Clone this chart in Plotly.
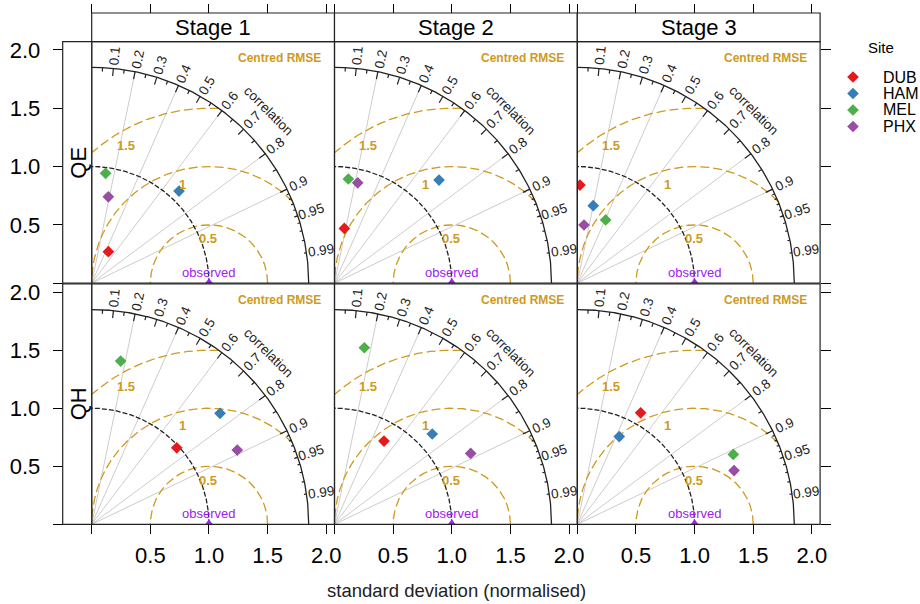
import numpy as np
import plotly.graph_objects as go

# ---------------- data ----------------
sites = ["DUB", "HAM", "MEL", "PHX"]
site_colors = ["#E41A1C", "#377EB8", "#4DAF4A", "#984EA3"]
stages = ["Stage 1", "Stage 2", "Stage 3"]
fluxes = ["QE", "QH"]

# normalised standard deviation and correlation (site order: DUB, HAM, MEL, PHX)
qe_stage1_sd = [0.305, 1.085, 0.949, 0.754]
qe_stage1_r = [0.466, 0.686, 0.125, 0.188]
qe_stage2_sd = [0.477, 1.255, 0.901, 0.883]
qe_stage2_r = [0.176, 0.710, 0.131, 0.224]
qe_stage3_sd = [0.841, 0.678, 0.594, 0.502]
qe_stage3_r = [0.027, 0.200, 0.407, 0.114]
qh_stage1_sd = [0.980, 1.453, 1.428, 1.396]
qh_stage1_r = [0.740, 0.753, 0.173, 0.889]
qh_stage2_sd = [0.832, 1.140, 1.542, 1.312]
qh_stage2_r = [0.507, 0.731, 0.165, 0.885]
qh_stage3_sd = [1.102, 0.836, 1.460, 1.414]
qh_stage3_r = [0.490, 0.428, 0.911, 0.945]

panel_sd = [[qe_stage1_sd, qe_stage2_sd, qe_stage3_sd],
            [qh_stage1_sd, qh_stage2_sd, qh_stage3_sd]]
panel_r = [[qe_stage1_r, qe_stage2_r, qe_stage3_r],
           [qh_stage1_r, qh_stage2_r, qh_stage3_r]]

observed_sd = 1.0
max_sd = 1.85
rms_levels = [0.5, 1.0, 1.5]
rms_texts = ["0.5", "1", "1.5"]
corr_grid = [0.2, 0.4, 0.6, 0.8, 0.9]
corr_labels = [0.1, 0.2, 0.3, 0.4, 0.5, 0.6, 0.7, 0.8, 0.9, 0.95, 0.99]
axis_tickvals = [0, 0.5, 1.0, 1.5, 2.0]
axis_ticktext = ["", "0.5", "1.0", "1.5", "2.0"]

# ---------------- style / layout ----------------
FW, FH = 920, 604
FONT = "Liberation Sans, Arial, sans-serif"
RMS_COL = "#CF9A1E"
OBS_COL = "#A020F0"
GRID_COL = "#CCCCCC"
AX_RANGE = [0, 2.07]
COL_X0 = [91.7, 334.5, 577.3]
COL_W = 242.8
ROW_Y = [(41.7, 283.2), (284.0, 524.3)]
STRIP_TOP = 13.0
LSTRIP_X0 = 62.7
rms_label_angles = [91, 105, 121]


def px(x):
    return x / FW


def py(y):
    return 1 - y / FH


fig = go.Figure()
layout = dict(
    width=FW, height=FH, margin=dict(l=0, r=0, t=0, b=0, autoexpand=False),
    paper_bgcolor="white", plot_bgcolor="rgba(0,0,0,0)", showlegend=False,
    font=dict(family=FONT, color="black"),
)
annotations = []
shapes = []


def arc_xy(radius, a0, a1, n=400):
    t = np.linspace(a0, a1, n)
    return radius * np.cos(t), radius * np.sin(t)


def paper_text(x, y, text, size, **kw):
    d = dict(x=px(x), y=py(y), xref="paper", yref="paper", text=text, showarrow=False,
             xanchor="center", yanchor="middle",
             font=dict(size=size, family=FONT, color=kw.pop("color", "black")))
    d.update(kw)
    return d


for row in range(2):
    for col in range(3):
        k = row * 3 + col + 1
        xn = "x" if k == 1 else f"x{k}"
        yn = "y" if k == 1 else f"y{k}"
        xk = "xaxis" if k == 1 else f"xaxis{k}"
        yk = "yaxis" if k == 1 else f"yaxis{k}"
        x0 = COL_X0[col]
        top, bot = ROW_Y[row]

        xa = dict(domain=[px(x0), px(x0 + COL_W)], range=AX_RANGE, showgrid=False,
                  zeroline=False, showline=False, fixedrange=True,
                  tickvals=axis_tickvals, ticktext=axis_ticktext,
                  tickcolor="black", tickwidth=1)
        ya = dict(domain=[py(bot), py(top)], range=AX_RANGE, showgrid=False,
                  zeroline=False, showline=False, fixedrange=True,
                  tickvals=axis_tickvals, ticktext=axis_ticktext,
                  tickcolor="black", tickwidth=1)
        if row == 0:
            xa.update(side="top", anchor="free", position=py(STRIP_TOP),
                      ticks="outside", ticklen=9, showticklabels=False)
        else:
            xa.update(anchor=yn, ticks="outside", ticklen=9, showticklabels=True,
                      tickfont=dict(size=22, family=FONT, color="black"),
                      ticklabelstandoff=2)
        if col == 0:
            ya.update(anchor="free", position=px(LSTRIP_X0), ticks="outside",
                      ticklen=10, showticklabels=True,
                      tickfont=dict(size=22, family=FONT, color="black"),
                      ticklabelstandoff=8)
        elif col == 2:
            ya.update(side="right", anchor="free", position=px(COL_X0[2] + COL_W),
                      ticks="outside", ticklen=10, showticklabels=False)
        else:
            ya.update(anchor=xn, ticks="", showticklabels=False)
        layout[xk] = xa
        layout[yk] = ya

        # grey correlation lines
        gx, gy = [], []
        for c in corr_grid:
            gx += [0, max_sd * c, None]
            gy += [0, max_sd * np.sqrt(1 - c * c), None]
        fig.add_trace(go.Scatter(x=gx, y=gy, mode="lines", xaxis=xn, yaxis=yn,
                                 line=dict(color=GRID_COL, width=1), hoverinfo="skip"))

        # centred RMSE circles around the observed point
        for lev in rms_levels:
            t = np.linspace(0, np.pi, 1500)
            cx = observed_sd + lev * np.cos(t)
            cy = lev * np.sin(t)
            m = (cx >= 0) & (cx ** 2 + cy ** 2 <= max_sd ** 2)
            fig.add_trace(go.Scatter(x=cx[m], y=cy[m], mode="lines", xaxis=xn, yaxis=yn,
                                     line=dict(color=RMS_COL, width=1.3, dash="9px,4px"),
                                     hoverinfo="skip"))

        # observed standard deviation arc
        ax_, ay_ = arc_xy(observed_sd, 0, np.pi / 2)
        fig.add_trace(go.Scatter(x=ax_, y=ay_, mode="lines", xaxis=xn, yaxis=yn,
                                 line=dict(color="#222222", width=1.3, dash="5px,2px"),
                                 hoverinfo="skip"))

        # outer correlation arc
        ox, oy = arc_xy(max_sd, 0, np.pi / 2)
        fig.add_trace(go.Scatter(x=ox, y=oy, mode="lines", xaxis=xn, yaxis=yn,
                                 line=dict(color="#222222", width=1.3), hoverinfo="skip"))

        # correlation ticks on the arc
        tx, ty = [], []
        tick_sets = [(np.arange(1, 10) / 10, 0.965),
                     (np.arange(0.05, 0.96, 0.1), 0.982),
                     (np.arange(91, 100) / 100, 0.988)]
        for vals, inner in tick_sets:
            for c in vals:
                s = np.sqrt(1 - c * c)
                tx += [max_sd * c, inner * max_sd * c, None]
                ty += [max_sd * s, inner * max_sd * s, None]
        fig.add_trace(go.Scatter(x=tx, y=ty, mode="lines", xaxis=xn, yaxis=yn,
                                 line=dict(color="#222222", width=1.2), hoverinfo="skip"))

        # observed marker
        fig.add_trace(go.Scatter(x=[observed_sd], y=[0], mode="markers", xaxis=xn, yaxis=yn,
                                 marker=dict(symbol="triangle-up", size=10, color=OBS_COL),
                                 cliponaxis=True, hoverinfo="skip"))

        # site points
        sds = panel_sd[row][col]
        rs = panel_r[row][col]
        for i, s in enumerate(sites):
            sd = sds[i]
            r = rs[i]
            fig.add_trace(go.Scatter(x=[sd * r], y=[sd * np.sqrt(1 - r * r)], mode="markers",
                                     xaxis=xn, yaxis=yn, name=s,
                                     marker=dict(symbol="diamond", size=9, color=site_colors[i]),
                                     cliponaxis=True))

        # correlation labels
        for c in corr_labels:
            ang = np.arccos(c)
            w = len(f"{c:g}")
            rad = max_sd * (1.06 + 0.006 * (w - 3))
            annotations.append(dict(x=rad * np.cos(ang), y=rad * np.sin(ang), xref=xn, yref=yn,
                                    text=f"{c:g}", showarrow=False, textangle=-np.degrees(ang),
                                    font=dict(size=13.5, family=FONT, color="#222222"),
                                    xanchor="center", yanchor="middle"))
        ca = np.radians(44.5)
        annotations.append(dict(x=1.14 * max_sd * np.cos(ca), y=1.14 * max_sd * np.sin(ca),
                                xref=xn, yref=yn, text="correlation", showarrow=False,
                                xanchor="center", yanchor="middle",
                                textangle=45, font=dict(size=13.5, family=FONT, color="#222222")))
        annotations.append(dict(x=1.605, y=1.93, xref=xn, yref=yn, text="<b>Centred RMSE</b>",
                                showarrow=False, xanchor="center", yanchor="middle",
                                font=dict(size=12, family=FONT, color=RMS_COL)))
        for lev, txt, la in zip(rms_levels, rms_texts, rms_label_angles):
            d = lev - 0.12
            annotations.append(dict(x=observed_sd + d * np.cos(np.radians(la)),
                                    y=d * np.sin(np.radians(la)), xref=xn, yref=yn,
                                    text=f"<b>{txt}</b>", showarrow=False,
                                    xanchor="center", yanchor="middle",
                                    font=dict(size=13, family=FONT, color=RMS_COL)))
        annotations.append(dict(x=observed_sd, y=0.09, xref=xn, yref=yn, text="observed",
                                showarrow=False, xanchor="center", yanchor="middle",
                                font=dict(size=13, family=FONT, color=OBS_COL)))

        # panel frame
        shapes.append(dict(type="rect", xref="paper", yref="paper",
                           x0=px(x0), x1=px(x0 + COL_W), y0=py(bot), y1=py(top),
                           line=dict(color="#222222", width=1.2), layer="above"))

# top strips
for col, st in enumerate(stages):
    x0 = COL_X0[col]
    shapes.append(dict(type="rect", xref="paper", yref="paper", x0=px(x0), x1=px(x0 + COL_W),
                       y0=py(ROW_Y[0][0]), y1=py(STRIP_TOP), line=dict(color="#222222", width=1.2),
                       fillcolor="white", layer="above"))
    annotations.append(paper_text(x0 + COL_W / 2, (STRIP_TOP + ROW_Y[0][0]) / 2, st, 22))
# left strips
for row, fl in enumerate(fluxes):
    top, bot = ROW_Y[row]
    shapes.append(dict(type="rect", xref="paper", yref="paper", x0=px(LSTRIP_X0), x1=px(COL_X0[0]),
                       y0=py(bot), y1=py(top), line=dict(color="#222222", width=1.2),
                       fillcolor="white", layer="above"))
    annotations.append(paper_text((LSTRIP_X0 + COL_X0[0]) / 2 + 1, (top + bot) / 2, fl, 22,
                                  textangle=-90))

# axis title
annotations.append(paper_text(456, 590, "standard deviation (normalised)", 18.5, color="#222222"))

# legend (drawn on a full-figure pixel axis)
layout["xaxis7"] = dict(domain=[0, 1], range=[0, FW], visible=False, fixedrange=True, anchor="y7")
layout["yaxis7"] = dict(domain=[0, 1], range=[FH, 0], visible=False, fixedrange=True, anchor="x7")
leg_y = [77, 93.5, 110, 126.5]
fig.add_trace(go.Scatter(x=[853] * len(sites), y=leg_y, mode="markers", xaxis="x7", yaxis="y7",
                         marker=dict(symbol="diamond", size=9, color=site_colors),
                         hoverinfo="skip"))
annotations.append(paper_text(881, 48, "Site", 15))
for s, yy in zip(sites, leg_y):
    annotations.append(paper_text(881, yy, s, 16, xanchor="left"))

layout["annotations"] = annotations
layout["shapes"] = shapes
fig.update_layout(**layout)
fig.write_html("out.html", config={"displayModeBar": False},
               post_script="document.body.style.margin='0px';")
